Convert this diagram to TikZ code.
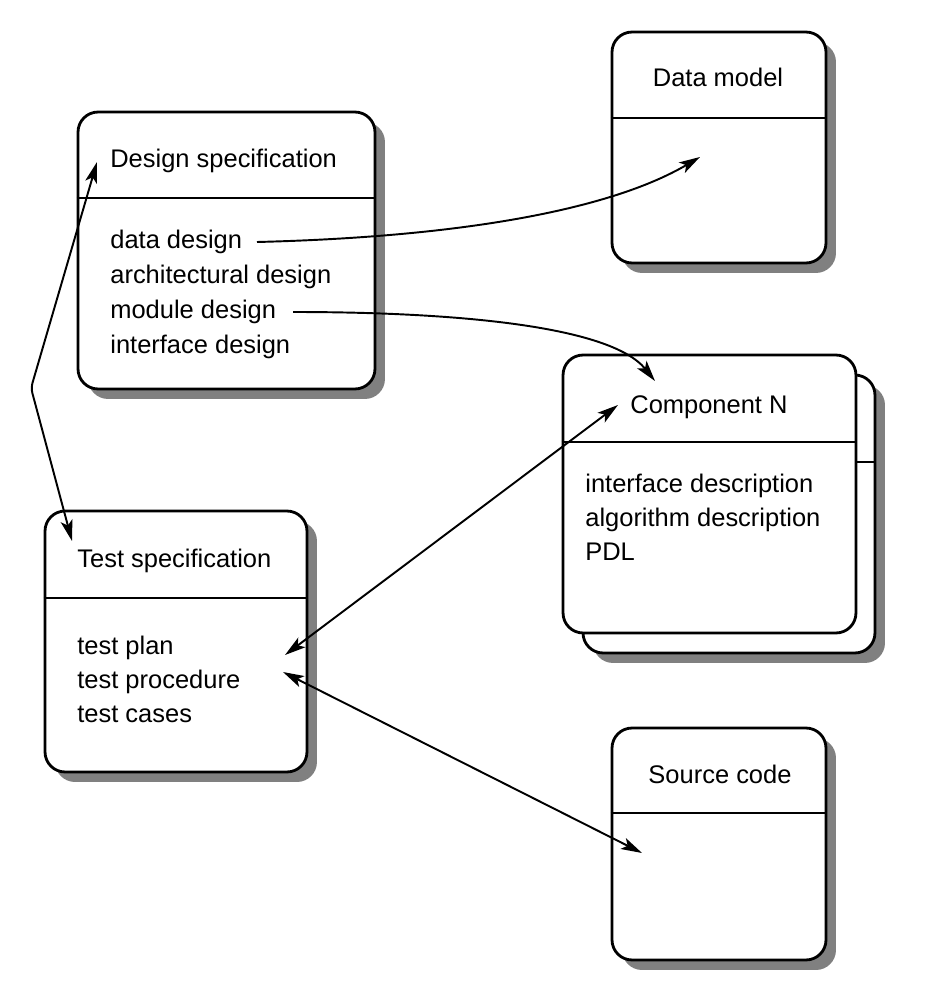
\documentclass[tikz,border=0pt]{standalone}
\usepackage{fontspec}
\setmainfont{Liberation Sans}
\usetikzlibrary{arrows.meta,shadows}

\begin{document}
\begin{tikzpicture}[x=0.02cm,y=-0.02cm]
\tikzstyle{box}=[draw=black,line width=1.6pt,rounded corners=0.4cm,fill=white,inner sep=0pt]
\tikzstyle{shade}=[drop shadow={shadow xshift=0.2cm,shadow yshift=-0.2cm,fill=black!50,opacity=1}]
\tikzstyle{label}=[inner sep=0pt,font=\fontsize{14.5}{17}\selectfont]
\tikzstyle{rule}=[line width=1.4pt]
\tikzstyle{link}=[line width=1.1pt,-{Stealth[length=0.42cm,width=0.24cm,inset=0.1cm]}]
\tikzstyle{both}=[line width=1.1pt,{Stealth[length=0.42cm,width=0.24cm,inset=0.1cm]}-{Stealth[length=0.42cm,width=0.24cm,inset=0.1cm]}]
\useasboundingbox (0,0) rectangle (924,1000);
% boxes
\node[box,shade,minimum width=5.94cm,minimum height=5.54cm] (design) at (226.5,250.5) {};
\node[box,shade,minimum width=4.28cm,minimum height=4.62cm] (data) at (719,147.5) {};
\node[box,shade,minimum width=5.84cm,minimum height=5.56cm] (compback) at (729,514) {};
\node[box,minimum width=5.86cm,minimum height=5.56cm] (comp) at (709.5,494) {};
\node[box,shade,minimum width=5.24cm,minimum height=5.22cm] (test) at (176,641.5) {};
\node[box,shade,minimum width=4.28cm,minimum height=4.64cm] (source) at (719,844) {};
% dividers
\draw[rule] (design.west |- 0,198) -- (design.east |- 0,198);
\draw[rule] (data.west |- 0,118) -- (data.east |- 0,118);
\draw[rule] (comp.west |- 0,442) -- (comp.east |- 0,442);
\draw[rule] (comp.east |- 0,462) -- (compback.east |- 0,462);
\draw[rule] (test.west |- 0,598) -- (test.east |- 0,598);
\draw[rule] (source.west |- 0,813) -- (source.east |- 0,813);
% titles
\node[label,anchor=base west] (dstitle) at (110,168) {Design specification};
\node[label,anchor=base] (dmtitle) at (718,87) {Data model};
\node[label,anchor=base west] (cntitle) at (630,413) {Component N};
\node[label,anchor=base west] (tstitle) at (77,567) {Test specification};
\node[label,anchor=base] (sctitle) at (720,783) {Source code};
% items
\node[label,anchor=base west] (dd) at (110,248) {data design};
\node[label,anchor=base west] (ad) at (110,283) {architectural design};
\node[label,anchor=base west] (md) at (110,318) {module design};
\node[label,anchor=base west] (id) at (110,353) {interface design};
\node[label,anchor=base west] (cid) at (585,492) {interface description};
\node[label,anchor=base west] (cad) at (585,526) {algorithm description};
\node[label,anchor=base west] (cpdl) at (585,560) {PDL};
\node[label,anchor=base west] (tp) at (77,654) {test plan};
\node[label,anchor=base west] (tpr) at (77,688) {test procedure};
\node[label,anchor=base west] (tc) at (77,722) {test cases};
% connector ends
\coordinate (ddout) at (257,242);
\coordinate (dmin) at (700,157);
\coordinate (mdout) at (293,312);
\coordinate (cnin) at (655,381);
\coordinate (dsin) at (97,162);
\coordinate (bend) at (31,388);
\coordinate (tsin) at (72,541);
\coordinate (tpin) at (285,655);
\coordinate (cnin2) at (618,405);
\coordinate (tprin) at (283,672);
\coordinate (scin) at (642,853);
% connectors
\draw[link] (ddout) .. controls (460,237) and (610,210) .. (dmin);
\draw[link] (mdout) .. controls (450,312) and (610,325) .. (cnin);
\draw[both,rounded corners=3pt] (dsin) -- (bend) -- (tsin);
\draw[both] (tpin) -- (cnin2);
\draw[both] (tprin) -- (scin);
\end{tikzpicture}
\end{document}
